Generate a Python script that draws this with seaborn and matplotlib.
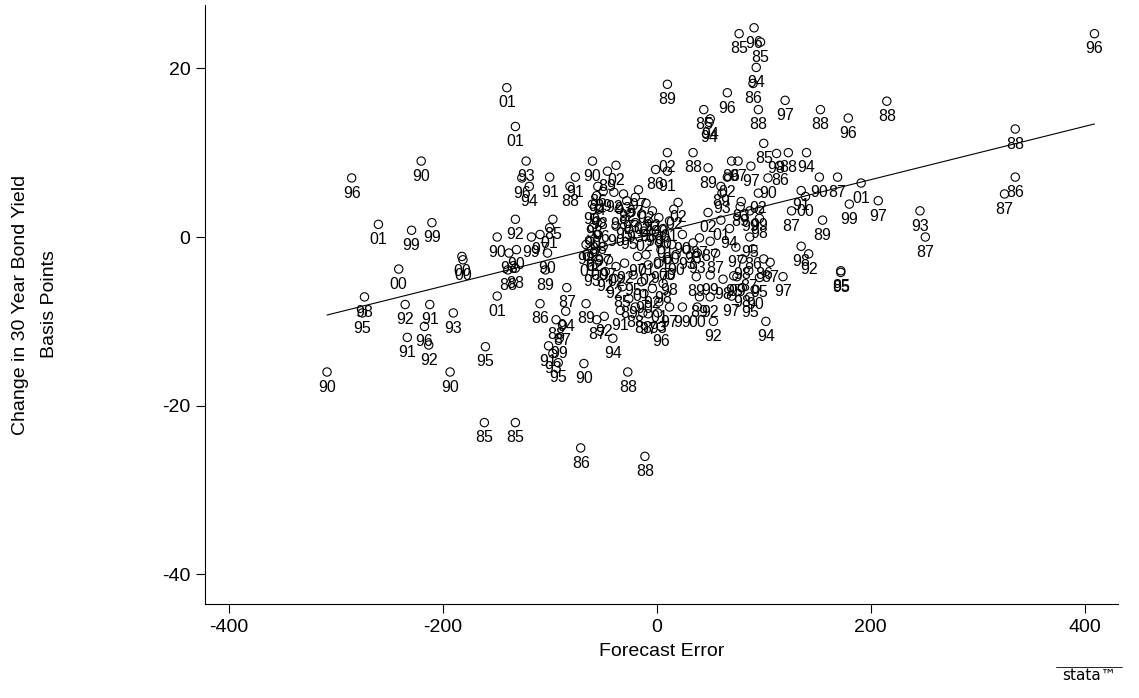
import matplotlib
matplotlib.use('Agg')
import matplotlib.pyplot as plt
import seaborn as sns
import pandas as pd

# values: forecast error, change in yield (bp), year label
forecast_error = [
    -285, -220, -260, -229, -210, -241, -273, -275, -235, -212, -217, -233, -213, -190, -160, -193, -308,
    -149, -182, -181, -149, -140, -132, -132, -122, -126, -119, -100, -76, -81, -60, -38, -46, -55, -50,
    -17, -31, -138, -131, -139, -132, -117, -109, -100, -97, -102, -104, -109, -84, -66, -85, -94, -88,
    -56, -49, -41, -91, -101, -97, -92, -68, -27, -161, -132, -71, -11,
    10, 77, 91, 97, 93, 90, 66, 120, 153, 95, 44, 50, 49, 100, 409, 215, 335, 179, 335, 325, 191, 207,
    180, 246, 251, 155, 126, 152, 169, 140, 123, 135, 139, 135, 142, 172, 172, 118,
    -56, -60, -54, -58, -52, -60, -55, -62, -50, -58, -64, -54, -60, -48, -66,
    -40, -28, -20, -10, -35, -24, -14, -4, -30, -20, -8, -38, -26, -12, 2, -2,
    6, 12, 16, 20, 8, 14, 4, 18, 10, 2, 24, 28, 34, 40, 50,
    -45, -38, -30, -40, -32, -22, -14, -8, -18, -26, -12, -4, -34, -20, -8, 2, 6,
    -13, 1, 4, 12, 24, 38, 53, 40, 50, 37, 50, 62, 75, 87, 106, 38, 55, -10, 12,
    61, 79, 78, 87, 96, 96, 48, 60, 68, 87, 74, 90, 80, 100, 86, 96, 72, 80, 92, 102, 70,
    112, 115, 104, 66, 70, 76, 88, 48, 60, 95, -1, 10, 10, 34,
]
yield_change = [
    7.0, 9.0, 1.5, 0.8, 1.7, -3.8, -7.1, -9.0, -8.0, -8.0, -10.6, -11.9, -12.8, -9.0, -13.0, -16.0, -16.0,
    -7.0, -2.3, -2.7, 0.0, 17.7, 13.1, 2.1, 9.0, 7.0, 6.0, 7.1, 7.1, 6.0, 9.0, 8.5, 7.8, 6.0, 5.4,
    5.6, 5.1, -1.9, -1.5, -3.9, -3.7, 0.0, 0.3, 1.1, 2.1, -1.9, -3.9, -7.9, -6.0, -7.9, -8.8, -9.8, -10.4,
    -9.8, -9.4, -12.0, -12.0, -12.9, -13.8, -14.9, -15.0, -16.0, -22.0, -22.0, -25.0, -26.0,
    18.1, 24.1, 24.8, 23.1, 20.1, 18.2, 17.1, 16.2, 15.1, 15.1, 15.1, 14.0, 13.6, 11.1, 24.1, 16.1, 12.8, 14.1, 7.1, 5.1, 6.4, 4.3,
    3.9, 3.1, 0.0, 2.0, 3.1, 7.1, 7.1, 10.0, 10.0, 5.5, 4.8, -1.1, -2.0, -4.0, -4.2, -4.7,
    4.9, 3.9, 3.3, 2.3, 1.7, 1.1, 0.3, -0.5, -1.1, -1.7, -2.3, -2.7, -3.5, -4.1, -0.9,
    5.3, 4.3, 4.7, 4.0, 3.3, 2.9, 2.7, 3.1, 2.1, 1.7, 1.9, 1.3, 0.9, 0.7, 2.3, 1.3,
    1.0, 1.9, 3.3, 4.1, -0.1, -0.9, -1.5, -2.1, -2.7, -3.1, 0.3, -1.5, -0.7, -0.1, -0.5,
    -2.7, -3.5, -3.1, -4.9, -5.9, -4.5, -5.3, -3.3, -2.3, -7.3, -6.7, -6.1, -8.7, -8.3, -9.1, -7.7, -5.5,
    -9.0, -9.0, -10.6, -8.3, -8.3, -8.3, -10.0, -7.1, -7.1, -4.7, -4.5, -5.0, -4.7, -7.1, -3.0, -1.9, -1.9, -2.1, -4.5,
    5.2, 4.2, 3.6, 3.1, 3.2, 2.2, 2.9, 2.0, 1.0, 0.0, -1.2, -1.4, -2.6, -2.6, -4.0, -4.8, -4.6, -6.0, -6.2, -10.0, -7.0,
    9.9, 8.5, 7.0, 7.1, 9.0, 9.0, 8.4, 8.2, 6.0, 5.2, 8.0, 7.8, 10.0, 10.0,
]
year_labels = [
    '96', '90', '01', '99', '99', '00', '98', '95', '92', '91', '96', '91', '92', '93', '95', '90', '90',
    '01', '00', '00', '90', '01', '01', '92', '93', '96', '94', '91', '91', '88', '90', '02', '89', '86', '89',
    '97', '93', '93', '90', '88', '88', '99', '97', '01', '85', '90', '89', '86', '87', '89', '94', '88', '87',
    '87', '92', '94', '99', '91', '93', '95', '90', '88', '85', '85', '86', '88',
    '89', '85', '96', '85', '94', '86', '96', '97', '88', '88', '85', '94', '94', '85', '96', '88', '88', '96', '86', '87', '01', '97',
    '99', '93', '87', '89', '87', '90', '87', '94', '88', '91', '00', '98', '92', '85', '95', '97',
    '94', '96', '98', '93', '96', '90', '98', '02', '97', '02', '01', '00', '93', '92', '98',
    '92', '92', '97', '02', '98', '93', '02', '92', '95', '93', '98', '90', '95', '02', '00', '98',
    '90', '01', '02', '02', '01', '00', '01', '90', '00', '97', '90', '93', '93', '87', '87',
    '97', '02', '92', '92', '85', '95', '01', '02', '97', '89', '90', '92', '91', '88', '97', '01', '98',
    '88', '93', '96', '97', '99', '00', '92', '89', '92', '89', '99', '98', '99', '95', '87', '93', '87', '01', '98',
    '93', '93', '89', '99', '99', '98', '02', '01', '94', '95', '97', '86', '98', '86', '87', '95', '95', '98', '90', '94', '97',
    '98', '86', '90', '02', '86', '97', '97', '89', '89', '02', '86', '91', '02', '88',
]
assert len(forecast_error) == len(yield_change) == len(year_labels)

# end points of the fitted line
fit_x = [-308, 409]
fit_y = [-9.25, 13.4]

df = pd.DataFrame({'Forecast Error': forecast_error,
                   'change': yield_change,
                   'year': year_labels})
fit = pd.DataFrame({'x': fit_x, 'y': fit_y})

sns.set_theme(style='ticks')
plt.rcParams['font.family'] = ['Liberation Sans', 'DejaVu Sans']
plt.rcParams['axes.unicode_minus'] = False

fig = plt.figure(figsize=(11.39, 6.98), dpi=100)
ax = fig.add_axes([205 / 1139, 1 - 604 / 698, (1118 - 205) / 1139, (604 - 5) / 698])

sns.lineplot(data=fit, x='x', y='y', ax=ax, color='black', lw=0.8)
sns.scatterplot(data=df, x='Forecast Error', y='change', ax=ax, marker='o', s=36,
                facecolor='none', edgecolor='black', linewidth=0.8, zorder=3)

for x, y, lab in zip(df['Forecast Error'], df['change'], df['year']):
    ax.annotate(lab, (x, y), xytext=(0, -11), textcoords='offset points',
                ha='center', va='center', fontsize=11.5, color='black')

ax.set_xlim(-422, 431)
ax.set_ylim(-43.5, 27.5)
ax.set_xticks([-400, -200, 0, 200, 400])
ax.set_yticks([-40, -20, 0, 20])
sns.despine(ax=ax)
for s in ['left', 'bottom']:
    ax.spines[s].set_color('black')
    ax.spines[s].set_linewidth(0.8)
ax.tick_params(direction='out', length=6.5, width=0.8, colors='black', labelsize=14, pad=4)
ax.set_xlabel('Forecast Error', fontsize=14, labelpad=5, color='black')
ax.set_ylabel('Change in 30 Year Bond Yield\nBasis Points', fontsize=14, labelpad=75,
              color='black', linespacing=1.95)

# stata logo
fig.text(1089 / 1139, 1 - 676 / 698, 'stata™', fontsize=11, ha='center', va='center',
         color='black', family=['DejaVu Sans'])
fig.add_artist(plt.Line2D([1056 / 1139, 1122 / 1139], [1 - 667 / 698, 1 - 667 / 698],
                          color='black', lw=0.6))

fig.savefig('out.png', dpi=100, facecolor='white')
